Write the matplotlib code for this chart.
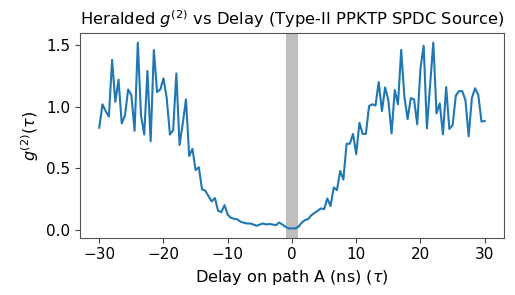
import matplotlib
matplotlib.use("Agg")
import matplotlib.pyplot as plt
import numpy as np

# Delay axis (ns), 0.5 ns steps
delay = np.arange(-30, 30.5, 0.5)

# g2 values
g2_neg = [0.83, 1.02, 0.965, 0.92, 1.38, 1.04, 1.22, 0.865, 0.93, 1.14,
          1.095, 0.805, 1.52, 0.93, 0.775, 1.29, 0.72, 1.46, 1.12, 1.14,
          1.23, 1.07, 0.775, 0.81, 1.27, 0.69, 0.865, 1.06, 0.60, 0.66,
          0.487, 0.51, 0.33, 0.32, 0.276, 0.233, 0.26, 0.157, 0.146, 0.203,
          0.124, 0.10, 0.092, 0.087, 0.068, 0.06, 0.054, 0.054, 0.046, 0.035,
          0.046, 0.054, 0.046, 0.05, 0.046, 0.04, 0.062, 0.046, 0.027, 0.014]
g2_pos = [0.014, 0.014, 0.027, 0.06, 0.081, 0.089, 0.12, 0.14, 0.157, 0.176,
          0.17, 0.257, 0.195, 0.346, 0.324, 0.48, 0.41, 0.70, 0.70, 0.78,
          0.616, 0.87, 0.78, 0.78, 1.005, 1.02, 1.01, 1.20, 0.965, 1.157,
          1.054, 0.784, 1.135, 1.02, 1.46, 1.08, 0.90, 1.07, 1.06, 0.857,
          1.31, 1.495, 0.825, 1.176, 1.52, 0.946, 1.027, 0.776, 1.16, 0.82,
          0.85, 1.09, 1.127, 1.127, 1.054, 0.76, 1.07, 1.15, 1.095, 0.88,
          0.885]
g2 = np.array(g2_neg + g2_pos)

# coincidence window that is masked out
window = (-1, 1)

fig = plt.figure(figsize=(5.15, 2.95), dpi=100)
ax = fig.add_axes([0.1553, 0.1942, 0.8233, 0.6929])

ax.axvspan(window[0], window[1], color="gray", alpha=0.5, lw=0)
ax.plot(delay, g2, color="tab:blue", lw=1.5)

ax.set_title(r"Heralded $g^{(2)}$ vs Delay (Type-II PPKTP SPDC Source)", fontsize=11.8)
ax.set_xlabel(r"Delay on path A (ns) ($\tau$)", fontsize=11.6)
ax.set_ylabel(r"$g^{(2)}(\tau)$", fontsize=11.6)
ax.set_xticks([-30, -20, -10, 0, 10, 20, 30])
ax.set_yticks([0.0, 0.5, 1.0, 1.5])
ax.tick_params(labelsize=11, color="#444444")
for s in ax.spines.values():
    s.set_color("#555555")

fig.savefig("out.png", dpi=100)
